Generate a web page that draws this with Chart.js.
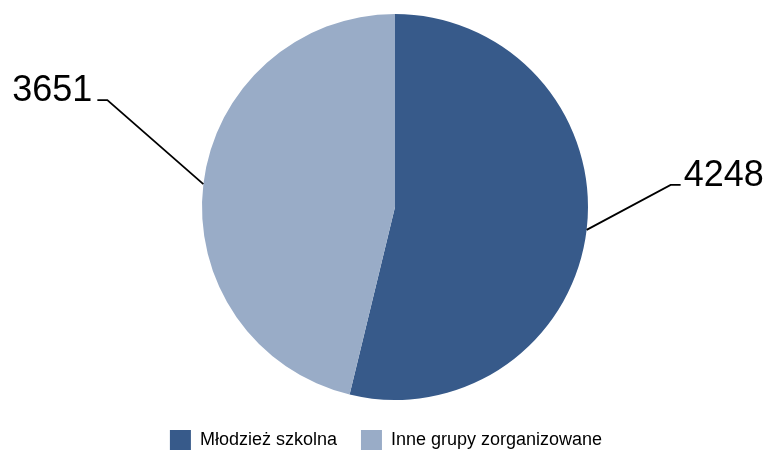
<!DOCTYPE html>
<html>
<head>
<meta charset="utf-8">
<script src="https://cdn.jsdelivr.net/npm/chart.js@4/dist/chart.umd.min.js"></script>
<style>
html,body{margin:0;padding:0;background:#fff;}
#wrap{width:770px;height:451px;position:relative;}
</style>
</head>
<body>
<div id="wrap"><canvas id="c" width="770" height="451"></canvas></div>
<script>
const categories = ["Młodzież szkolna", "Inne grupy zorganizowane"];
const values = [4248, 3651];
const colors = ["#375A8A", "#99ACC7"];

const leaderPlugin = {
  id: 'leaders',
  beforeInit(chart) {
    const l = chart.legend;
    if (l) {
      const f = l.fit.bind(l);
      l.fit = function () { f(); this.height = 45; };
    }
  },
  afterLayout(chart, args, opts) {
    const l = chart.legend;
    if (l) { l.left += opts.legendShift; l.right += opts.legendShift; }
  },
  afterDatasetsDraw(chart, args, opts) {
    const ctx = chart.ctx;
    const meta = chart.getDatasetMeta(0);
    meta.data.forEach((arc, i) => {
      const p = arc.getProps(['x', 'y', 'startAngle', 'endAngle', 'outerRadius'], true);
      const mid = (p.startAngle + p.endAngle) / 2;
      const sx = p.x + Math.cos(mid) * p.outerRadius;
      const sy = p.y + Math.sin(mid) * p.outerRadius;
      const off = opts.offsets[i];
      const ex = sx + off[0], ey = sy + off[1];
      const dir = off[0] >= 0 ? 1 : -1;
      const hx = ex + dir * 10;
      ctx.save();
      ctx.strokeStyle = '#000';
      ctx.lineWidth = 1.8;
      ctx.beginPath();
      ctx.moveTo(sx, sy);
      ctx.lineTo(ex, ey);
      ctx.lineTo(hx, ey);
      ctx.stroke();
      ctx.fillStyle = '#000';
      ctx.font = '36px "Liberation Sans", Arial, sans-serif';
      ctx.textBaseline = 'alphabetic';
      ctx.textAlign = dir > 0 ? 'left' : 'right';
      ctx.fillText(String(chart.data.datasets[0].data[i]), hx + dir * (dir > 0 ? 3 : 5), ey + 1);
      ctx.restore();
    });
  }
};

new Chart(document.getElementById('c'), {
  type: 'pie',
  data: {
    labels: categories,
    datasets: [{
      data: values,
      backgroundColor: colors,
      borderWidth: 0,
      radius: 193
    }]
  },
  options: {
    responsive: false,
    animation: false,
    layout: { padding: { top: 8, left: 20, right: 0, bottom: 0 } },
    plugins: {
      tooltip: { enabled: false },
      legend: {
        position: 'bottom',
        labels: {
          boxWidth: 21,
          boxHeight: 20,
          padding: 24,
          color: '#000',
          font: { family: '"Liberation Sans", Arial, sans-serif', size: 18 }
        }
      },
      leaders: { offsets: [[84, -45], [-96, -84]], legendShift: -9 }
    }
  },
  plugins: [leaderPlugin]
});
</script>
</body>
</html>
